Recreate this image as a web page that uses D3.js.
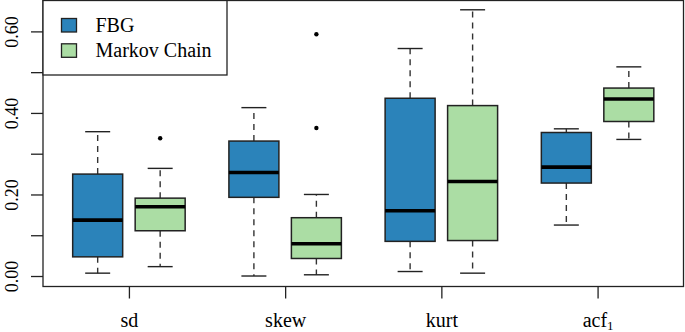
<!DOCTYPE html>
<html>
<head>
<meta charset="utf-8">
<script src="https://cdn.jsdelivr.net/npm/d3@7"></script>
<style>
  body { margin: 0; background: #fff; }
  text { font-family: "Liberation Serif", "Times New Roman", serif; fill: #000; }
</style>
</head>
<body>
<svg id="svg1"></svg>
<script>
// categories and series
var categories = ["sd", "skew", "kurt", "acf"];
var seriesNames = ["FBG", "Markov Chain"];
var seriesColors = ["#2b83ba", "#abdda4"];

// five number summaries: [lower whisker, q1, median, q3, upper whisker]
var fbgStats = [
  [0.007, 0.047, 0.137, 0.250, 0.354],
  [0.000, 0.193, 0.254, 0.331, 0.413],
  [0.011, 0.085, 0.160, 0.436, 0.558],
  [0.125, 0.228, 0.267, 0.352, 0.361]
];
var markovStats = [
  [0.023, 0.111, 0.170, 0.191, 0.264],
  [0.003, 0.043, 0.079, 0.143, 0.200],
  [0.007, 0.087, 0.232, 0.418, 0.653],
  [0.335, 0.379, 0.434, 0.461, 0.513]
];
var fbgOutliers = [[], [], [], []];
var markovOutliers = [[0.338], [0.363, 0.593], [], []];

var yTicks = [0, 0.1, 0.2, 0.3, 0.4, 0.5, 0.6];

var width = 685, height = 332;
var plotLeft = 43, plotRight = 683.5, plotTop = 0.5, plotBottom = 286.5;

var svg = d3.select("#svg1")
  .attr("width", width)
  .attr("height", height);

var x = d3.scaleLinear()
  .domain([0.45, 4.55])
  .range([plotLeft, plotRight]);

var y = d3.scaleLinear()
  .domain([-0.0245, 0.677])
  .range([plotBottom - 0.5, plotTop - 0.5]);

var offset = 0.2, halfBox = 0.16, halfCap = 0.08;

var series = [
  {name: seriesNames[0], color: seriesColors[0], stats: fbgStats, out: fbgOutliers, shift: -offset},
  {name: seriesNames[1], color: seriesColors[1], stats: markovStats, out: markovOutliers, shift: offset}
];

var plot = svg.append("g");

series.forEach(function (s) {
  var g = plot.append("g");
  s.stats.forEach(function (d, i) {
    var c = i + 1 + s.shift;
    // whiskers
    g.append("line")
      .attr("x1", x(c)).attr("x2", x(c))
      .attr("y1", y(d[3])).attr("y2", y(d[4]))
      .attr("stroke", "#333").attr("stroke-width", 1.4)
      .attr("stroke-dasharray", "6,5");
    g.append("line")
      .attr("x1", x(c)).attr("x2", x(c))
      .attr("y1", y(d[1])).attr("y2", y(d[0]))
      .attr("stroke", "#333").attr("stroke-width", 1.4)
      .attr("stroke-dasharray", "6,5");
    // caps
    [d[0], d[4]].forEach(function (v) {
      g.append("line")
        .attr("x1", x(c - halfCap)).attr("x2", x(c + halfCap))
        .attr("y1", y(v)).attr("y2", y(v))
        .attr("stroke", "#222").attr("stroke-width", 1.4);
    });
    // box
    g.append("rect")
      .attr("x", x(c - halfBox))
      .attr("y", y(d[3]))
      .attr("width", x(c + halfBox) - x(c - halfBox))
      .attr("height", y(d[1]) - y(d[3]))
      .attr("fill", s.color)
      .attr("stroke", "#222").attr("stroke-width", 1.5);
    // median
    g.append("line")
      .attr("x1", x(c - halfBox)).attr("x2", x(c + halfBox))
      .attr("y1", y(d[2])).attr("y2", y(d[2]))
      .attr("stroke", "#000").attr("stroke-width", 3.6);
    // outliers
    s.out[i].forEach(function (v) {
      g.append("circle")
        .attr("cx", x(c)).attr("cy", y(v))
        .attr("r", 2.2).attr("fill", "#000");
    });
  });
});

// frame
svg.append("rect")
  .attr("x", plotLeft).attr("y", plotTop)
  .attr("width", plotRight - plotLeft).attr("height", plotBottom - plotTop)
  .attr("fill", "none").attr("stroke", "#222").attr("stroke-width", 1.3);

// Y axis
var yAxis = svg.append("g")
  .attr("transform", "translate(" + plotLeft + ",0)")
  .call(d3.axisLeft(y)
    .tickValues(yTicks)
    .tickSize(12)
    .tickFormat(function (d, i) { return i % 2 == 0 ? d3.format(".2f")(d) : ""; }));
yAxis.select(".domain").remove();
yAxis.selectAll("line").attr("stroke", "#222").attr("stroke-width", 1.3);
yAxis.selectAll("text")
  .attr("transform", "rotate(-90)")
  .attr("x", 0)
  .attr("y", -25.5)
  .attr("dy", 0)
  .style("text-anchor", "middle")
  .style("font-family", "Liberation Serif")
  .style("font-size", "18px")
  .attr("fill", "#000");

// X axis
var xAxis = svg.append("g")
  .attr("transform", "translate(0," + plotBottom + ")")
  .call(d3.axisBottom(x)
    .tickValues([1, 2, 3, 4])
    .tickSize(12)
    .tickFormat(function (d) { return categories[d - 1]; }));
xAxis.select(".domain").remove();
xAxis.selectAll("line").attr("stroke", "#222").attr("stroke-width", 1.3);
xAxis.selectAll("text")
  .attr("y", 40.5)
  .attr("dy", 0)
  .style("font-family", "Liberation Serif")
  .style("font-size", "20px")
  .attr("fill", "#000");
// subscript on acf
xAxis.selectAll("text").filter(function (d) { return d == 4; })
  .text("acf")
  .append("tspan")
  .attr("dy", 3)
  .style("font-size", "13px")
  .text("1");

// legend
var legend = svg.append("g");
legend.append("rect")
  .attr("x", plotLeft).attr("y", plotTop)
  .attr("width", 227 - plotLeft).attr("height", 74.5)
  .attr("fill", "#fff").attr("stroke", "#222").attr("stroke-width", 1.3);
series.forEach(function (s, i) {
  legend.append("rect")
    .attr("x", 61.5).attr("y", 18.5 + i * 25.3)
    .attr("width", 15).attr("height", 13.5)
    .attr("fill", s.color)
    .attr("stroke", "#222").attr("stroke-width", 1.3);
  legend.append("text")
    .attr("x", 95.5).attr("y", 31.7 + i * 25)
    .style("font-size", "20px")
    .text(s.name);
});
</script>
</body>
</html>
